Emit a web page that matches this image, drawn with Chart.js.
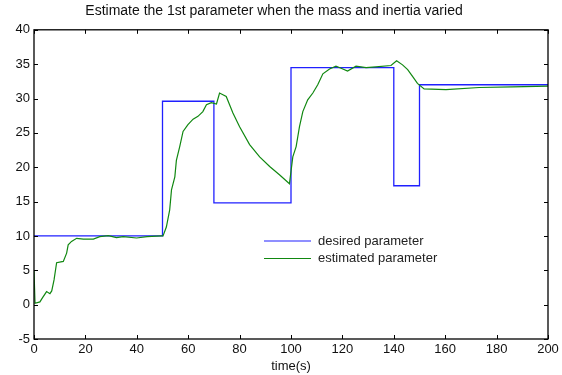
<!DOCTYPE html>
<html>
<head>
<meta charset="utf-8">
<script src="https://cdn.jsdelivr.net/npm/chart.js@4"></script>
<style>
  html, body { margin: 0; padding: 0; background: #fff; }
  #wrap { width: 562px; height: 375px; }
</style>
</head>
<body>
<div id="wrap"><canvas id="chart" width="562" height="375"></canvas></div>
<script>
// ====================== Data ======================
const chartTitle = 'Estimate the 1st parameter when the mass and inertia varied';
const xTicks = [0, 20, 40, 60, 80, 100, 120, 140, 160, 180, 200];
const yTicks = [-5, 0, 5, 10, 15, 20, 25, 30, 35, 40];

// desired parameter (step signal)
const desiredT = [0, 50, 50, 70, 70, 100, 100, 140, 140, 150, 150, 200];
const desiredY = [10, 10, 29.6, 29.6, 14.8, 14.8, 34.5, 34.5, 17.3, 17.3, 32, 32];

// estimated parameter
const estT = [0, 0.4, 2.3, 3.4, 4.9, 6.2, 6.9, 7.8, 8.8, 11.4, 12.7, 13.3, 14.6, 16.6, 19.2, 23.1,
  25.6, 28.9, 32.1, 34.7, 39.9, 44, 49.6, 50.2, 51.5, 52.8, 53.5, 54.8, 55.4, 56.7, 58, 59.9,
  61.9, 63.8, 65.7, 67.1, 69, 71, 72.2, 74.8, 77.4, 80, 83.9, 87.8, 91.7, 95.5, 99.4, 100.7,
  102, 103.3, 104.6, 106.5, 108.5, 110.4, 112.4, 115, 117.5, 119.5, 122, 125.3, 129.2, 133,
  138.9, 141.1, 143.4, 145.4, 147.5, 149.2, 151.8, 160.3, 173.2, 186.1, 200];
const estY = [5, 0.2, 0.4, 1.05, 1.9, 1.6, 2.0, 3.6, 6.1, 6.3, 7.5, 8.7, 9.2, 9.65, 9.55, 9.55,
  9.9, 10.05, 9.75, 9.9, 9.7, 9.9, 10, 10, 11.3, 13.8, 16.7, 18.6, 21, 23, 25.2, 26.2,
  27, 27.4, 28.1, 29.1, 29.4, 29.2, 30.8, 30.3, 27.9, 25.9, 23.3, 21.5, 20.1, 18.9, 17.6, 21.5,
  23, 25.9, 28.1, 29.8, 30.8, 32, 33.6, 34.3, 34.7, 34.4, 34.0, 34.7, 34.5, 34.6,
  34.8, 35.5, 34.9, 34.2, 33.1, 32.2, 31.4, 31.3, 31.6, 31.7, 31.8];

const toPoints = (xs, ys) => xs.map((x, i) => ({ x: x, y: ys[i] }));

// ====================== Plugins ======================
// MATLAB style box with inward ticks on all four sides
const boxTicks = {
  id: 'boxTicks',
  afterDatasetsDraw(chart) {
    const { ctx, chartArea: a, scales } = chart;
    ctx.save();
    ctx.strokeStyle = '#000';
    ctx.lineWidth = 1;
    ctx.beginPath();
    xTicks.forEach(v => {
      const px = Math.round(scales.x.getPixelForValue(v)) + 0.5;
      ctx.moveTo(px, a.bottom); ctx.lineTo(px, a.bottom - 4);
      ctx.moveTo(px, a.top); ctx.lineTo(px, a.top + 4);
    });
    yTicks.forEach(v => {
      const py = Math.round(scales.y.getPixelForValue(v)) + 0.5;
      ctx.moveTo(a.left, py); ctx.lineTo(a.left + 4, py);
      ctx.moveTo(a.right, py); ctx.lineTo(a.right - 4, py);
    });
    ctx.stroke();
    ctx.lineWidth = 1.3;
    ctx.strokeRect(a.left, a.top, a.right - a.left, a.bottom - a.top);
    ctx.restore();
  }
};

// legend inside the axes, no box
const innerLegend = {
  id: 'innerLegend',
  afterDatasetsDraw(chart) {
    const { ctx } = chart;
    ctx.save();
    ctx.font = '13px "Liberation Sans", Arial, sans-serif';
    ctx.textBaseline = 'middle';
    chart.data.datasets.forEach((ds, i) => {
      const y = 241 + i * 17.5;
      ctx.strokeStyle = ds.borderColor;
      ctx.lineWidth = 1.2;
      ctx.beginPath();
      ctx.moveTo(264, y); ctx.lineTo(311, y);
      ctx.stroke();
      ctx.fillStyle = '#222';
      ctx.fillText(ds.label, 318, y);
    });
    ctx.restore();
  }
};

// ====================== Chart ======================
const ctx = document.getElementById('chart').getContext('2d');
new Chart(ctx, {
  type: 'line',
  data: {
    datasets: [
      {
        label: 'desired parameter',
        data: toPoints(desiredT, desiredY),
        borderColor: '#2020ff',
        borderWidth: 1.3,
        pointRadius: 0,
        tension: 0,
        order: 2
      },
      {
        label: 'estimated parameter',
        data: toPoints(estT, estY),
        borderColor: '#118811',
        borderWidth: 1.2,
        pointRadius: 0,
        tension: 0,
        order: 1
      }
    ]
  },
  options: {
    responsive: false,
    animation: false,
    layout: { padding: { right: 14, left: 0, top: 0, bottom: 0 } },
    plugins: {
      legend: { display: false },
      tooltip: { enabled: false },
      title: {
        display: true,
        text: chartTitle,
        color: '#111',
        font: { family: '"Liberation Sans", Arial, sans-serif', size: 14, weight: 'normal' },
        padding: { top: 3, bottom: 10 }
      }
    },
    scales: {
      x: {
        type: 'linear',
        min: 0, max: 200,
        afterBuildTicks: s => { s.ticks = xTicks.map(v => ({ value: v })); },
        afterFit: s => { s.height = 36; },
        grid: { display: false, drawTicks: false },
        border: { display: false },
        ticks: {
          color: '#111',
          padding: 3,
          maxRotation: 0,
          font: { family: '"Liberation Sans", Arial, sans-serif', size: 13 }
        },
        title: {
          display: true,
          text: 'time(s)',
          color: '#111',
          font: { family: '"Liberation Sans", Arial, sans-serif', size: 13 },
          padding: { top: 0, bottom: 1 }
        }
      },
      y: {
        min: -5, max: 40,
        afterBuildTicks: s => { s.ticks = yTicks.map(v => ({ value: v })); },
        afterFit: s => { s.width = 34; },
        grid: { display: false, drawTicks: false },
        border: { display: false },
        ticks: {
          color: '#111',
          padding: 4,
          font: { family: '"Liberation Sans", Arial, sans-serif', size: 13 }
        }
      }
    }
  },
  plugins: [boxTicks, innerLegend]
});
</script>
</body>
</html>
